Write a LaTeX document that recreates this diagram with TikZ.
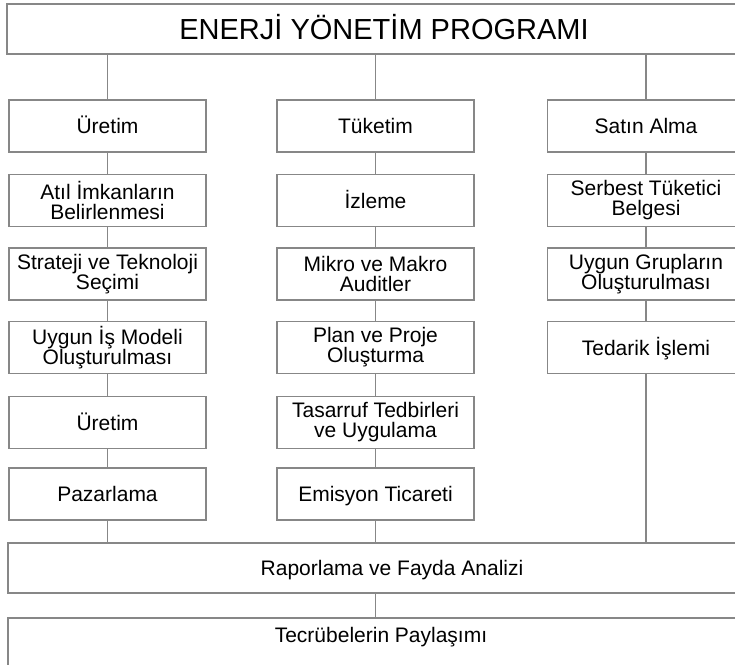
\documentclass[tikz,border=0pt]{standalone}
\usepackage{fontspec}
\setmainfont{Liberation Sans}
\usepackage{tikz}
\definecolor{cizgi}{RGB}{135,135,135}

\begin{document}
\begin{tikzpicture}[x=1pt,y=-1pt,line width=1.6pt,draw=cizgi,
  kutu/.style={draw=cizgi,line width=1.6pt,inner sep=0pt,align=center,
    minimum width=197pt,minimum height=52pt,font=\fontsize{21}{20}\selectfont},
  tek/.style={kutu,text height=15pt,text depth=0pt},
  serit/.style={tek,minimum height=50pt}]
\useasboundingbox(0,0)rectangle(735,664);
\clip(0,0)rectangle(735,664);
\node[serit,minimum width=754pt,text height=20.8pt,
  font=\fontsize{29}{30}\selectfont](baslik)at(384,29){ENERJİ YÖNETİM PROGRAMI};
\node[tek](uretimA)at(107.5,126){Üretim};
\node[kutu](atil)at(107.5,200.5){Atıl İmkanların\\Belirlenmesi};
\node[kutu](strateji)at(107.5,274){Strateji ve Teknoloji\\Seçimi};
\node[kutu](isModeli)at(107.5,347.5){Uygun İş Modeli\\Oluşturulması};
\node[tek](uretimB)at(107.5,422.5){Üretim};
\node[tek](pazarlama)at(107.5,494){Pazarlama};
\node[tek](tuketim)at(375.5,126){Tüketim};
\node[tek](izleme)at(375.5,200.5){İzleme};
\node[kutu](mikro)at(375.5,274){Mikro ve Makro\\Auditler};
\node[kutu](plan)at(375.5,347.5){Plan ve Proje\\Oluşturma};
\node[kutu](tasarruf)at(375.5,422.5){Tasarruf Tedbirleri\\ve Uygulama};
\node[tek](emisyon)at(375.5,494){Emisyon Ticareti};
\node[tek](satin)at(646,126){Satın Alma};
\node[kutu](serbest)at(646,200.5){Serbest Tüketici\\Belgesi};
\node[kutu](gruplar)at(646,274){Uygun Grupların\\Oluşturulması};
\node[tek](tedarik)at(646,347.5){Tedarik İşlemi};
\node[serit,minimum width=768pt](rapor)at(392,568){Raporlama ve Fayda Analizi};
\node[kutu,minimum width=746pt,minimum height=60pt,text height=15pt,text depth=25.5pt,
  anchor=north](tecrube)at(381,617){Tecrübelerin Paylaşımı};
\draw(uretimA)--(uretimA|-baslik.south)(tuketim)--(tuketim|-baslik.south)
(satin)--(satin|-baslik.south);
\draw(uretimA)--(atil)--(strateji)--(isModeli)--(uretimB)--(pazarlama);
\draw(tuketim)--(izleme)--(mikro)--(plan)--(tasarruf)--(emisyon);
\draw(satin)--(serbest)--(gruplar)--(tedarik);
\draw(pazarlama)--(pazarlama|-rapor.north)(emisyon)--(emisyon|-rapor.north)
(tedarik)--(tedarik|-rapor.north);
\draw(rapor.south-|emisyon)--(tecrube.north-|emisyon);
\end{tikzpicture}
\end{document}
